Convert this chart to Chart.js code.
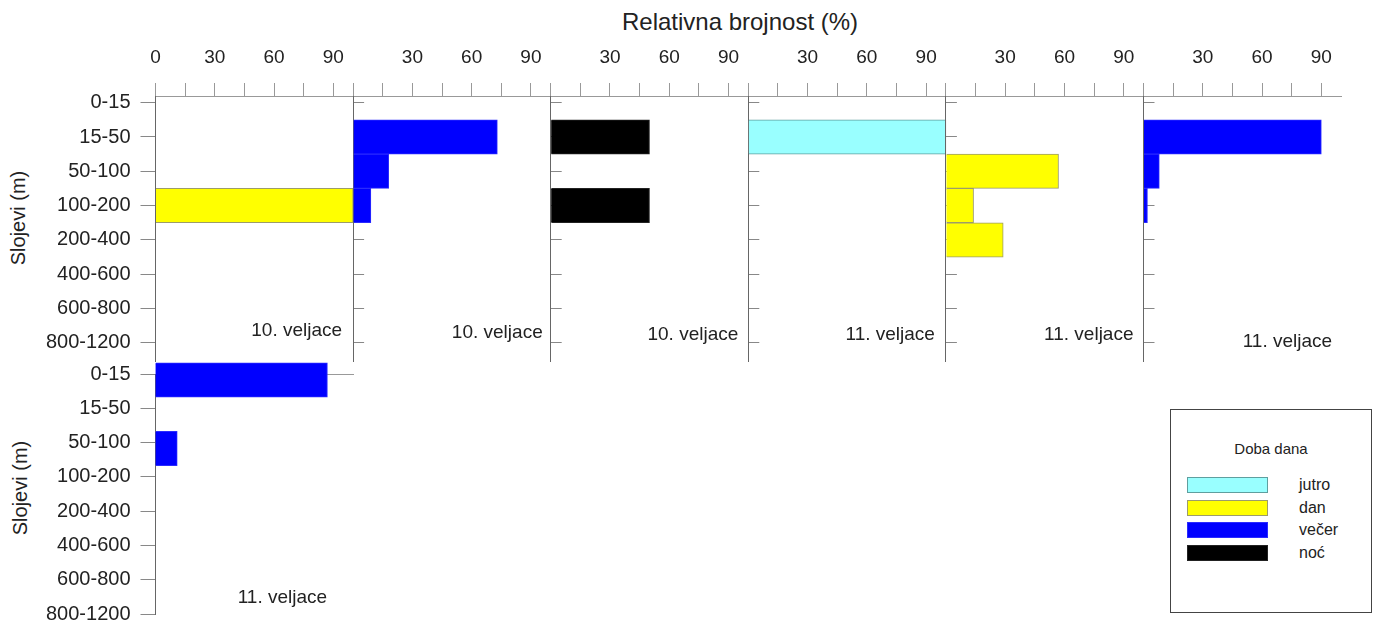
<!DOCTYPE html>
<html lang="hr">
<head>
<meta charset="utf-8">
<title>Relativna brojnost po slojevima</title>
<script src="https://cdn.jsdelivr.net/npm/chart.js@4.4.1/dist/chart.umd.min.js"></script>
<style>
  html, body { margin: 0; padding: 0; background: #fff; overflow: hidden; }
  #wrap { position: relative; width: 1381px; height: 626px; overflow: hidden; background: #fff;
          font-family: 'Liberation Sans', Arial, sans-serif; color: #222; }
  #wrap canvas { position: absolute; left: 0; top: 0; }
  .title { position: absolute; left: 740px; top: 22px; transform: translate(-50%, -50%);
           font-size: 24px; white-space: nowrap; }
  .ytitle { position: absolute; font-size: 20px; white-space: nowrap;
            transform: translate(-50%, -50%) rotate(-90deg); }
  #legend { position: absolute; left: 1170px; top: 409px; width: 202px; height: 204px;
            border: 1px solid #444; box-sizing: border-box; }
  #legend .head { position: absolute; left: 0; right: 0; top: 38px; transform: translateY(-50%);
                  text-align: center; font-size: 15px; }
  #legend .row { position: absolute; left: 16px; height: 16px; width: 180px; }
  #legend .sw { position: absolute; left: 0; top: 0; width: 81px; height: 16px;
                box-sizing: border-box; border: 1px solid; }
  #legend .lbl { position: absolute; left: 112px; top: 50%; transform: translateY(-50%);
                 font-size: 16px; line-height: 1; }
</style>
</head>
<body>
<div id="wrap">
  <div class="title">Relativna brojnost (%)</div>
  <div class="ytitle" style="left:18px; top:218px;">Slojevi (m)</div>
  <div class="ytitle" style="left:20px; top:488px;">Slojevi (m)</div>
  <div id="legend"><div class="head">Doba dana</div></div>
</div>
<script>
"use strict";

/* --- PODACI --- */

const depthLayers = ['0-15', '15-50', '50-100', '100-200', '200-400', '400-600', '600-800', '800-1200'];
const periods = ['jutro', 'dan', 'večer', 'noć'];
const xTickValues = [0, 15, 30, 45, 60, 75, 90];
const xTickLabels = ['0', '', '30', '', '60', '', '90'];

// relativna brojnost (%) po sloju, jedan niz po panelu
const feb10Dan = [null, null, null, 100, null, null, null, null];
const feb10Vecer = [null, 73, 18, 9, null, null, null, null];
const feb10Noc = [null, 50, null, 50, null, null, null, null];
const feb11Jutro = [null, 100, null, null, null, null, null, null];
const feb11Dan = [null, null, 57, 14, 29, null, null, null];
const feb11Vecer = [null, 90, 8, 2, null, null, null, null];
const feb11VecerB = [87, null, 11, null, null, null, null, null];

const panelValues = [feb10Dan, feb10Vecer, feb10Noc, feb11Jutro, feb11Dan, feb11Vecer, feb11VecerB];
const panelPeriods = [1, 2, 3, 0, 1, 2, 2];
const panelDates = ['10. veljace', '10. veljace', '10. veljace', '11. veljace', '11. veljace', '11. veljace', '11. veljace'];

/* --- IZGLED --- */

const periodFill = ['#99ffff', '#ffff00', '#0000ff', '#000000'];
const periodBorder = ['#5f9f9f', '#9c9c6a', '#2a2aff', '#222222'];
const FONT = "'Liberation Sans', Arial, sans-serif";
const W = 1381, H = 626;
const panelW = 197.6;
const topLefts = [155.5, 353.1, 550.7, 748.3, 945.9, 1143.5];
const dateSpots = [[-11, 331], [-8, 333], [-10, 335], [-11, 335], [-10, 335], [-9, 342], [-26, 598]];

const dateLabel = {
  id: 'dateLabel',
  afterDraw(chart, args, o) {
    const ctx = chart.ctx;
    ctx.save();
    ctx.font = '19px ' + FONT;
    ctx.fillStyle = '#222';
    ctx.textAlign = 'right';
    ctx.textBaseline = 'middle';
    ctx.fillText(o.text, chart.chartArea.right + o.dx, o.y);
    ctx.restore();
  }
};

const layerTicks = s => { s.ticks = depthLayers.map((_, k) => ({ value: k })); };

function panelChart(i) {
  const lower = i === 6;
  const left = lower ? topLefts[0] : topLefts[i];
  const withLabels = i === 0 || lower;
  const bottom = lower ? 614 : 361;
  const p = panelPeriods[i];

  const canvas = document.createElement('canvas');
  canvas.width = W;
  canvas.height = H;
  document.getElementById('wrap').appendChild(canvas);

  const scales = {
    x: {
      position: 'top',
      min: 0,
      max: 100,
      afterBuildTicks: s => { s.ticks = xTickValues.map(v => ({ value: v })); },
      afterFit: s => { s.height = lower ? 0 : 96; s.paddingLeft = 0; s.paddingRight = 0; },
      ticks: {
        display: !lower,
        autoSkip: false,
        maxRotation: 0,
        padding: 14,
        color: '#222',
        font: { family: FONT, size: 19 },
        callback: (v, k) => (k === 0 && i !== 0) ? '' : xTickLabels[k]
      },
      grid: { display: !lower, drawOnChartArea: false, tickLength: 13, color: '#999' },
      border: { color: '#999' }
    },
    y: {
      type: 'linear',
      reverse: true,
      offset: false,
      min: lower ? 0 : -0.195,
      max: lower ? 7 : 7.53,
      afterBuildTicks: layerTicks,
      afterFit: s => { s.width = withLabels ? left : 0; s.paddingTop = 0; s.paddingBottom = 0; },
      ticks: {
        display: withLabels,
        padding: 10,
        color: '#222',
        font: { family: FONT, size: 20 },
        callback: v => depthLayers[v]
      },
      grid: { offset: false, drawOnChartArea: false, tickLength: withLabels ? 15 : -11, color: '#888' },
      border: { color: '#666' }
    }
  };

  // donji panel: stupci su malo pomaknuti prema dolje u odnosu na oznake
  if (lower) {
    scales.y2 = {
      type: 'linear',
      position: 'left',
      reverse: true,
      offset: false,
      min: -0.175,
      max: 6.825,
      afterBuildTicks: layerTicks,
      afterFit: s => { s.width = 0; s.paddingTop = 0; s.paddingBottom = 0; },
      ticks: { display: false },
      grid: { display: false, offset: false },
      border: { display: false }
    };
  }

  return new Chart(canvas, {
    type: 'bar',
    data: {
      datasets: [{
        label: periods[p],
        data: panelValues[i].map((v, k) => ({ x: v, y: k })),
        backgroundColor: periodFill[p],
        borderColor: periodBorder[p],
        borderWidth: 1,
        categoryPercentage: 1,
        barPercentage: 1,
        yAxisID: lower ? 'y2' : 'y',
        clip: false
      }]
    },
    options: {
      indexAxis: 'y',
      responsive: false,
      animation: false,
      devicePixelRatio: 1,
      layout: {
        padding: {
          left: withLabels ? 0 : left,
          right: W - left - panelW,
          top: lower ? 374 : 0,
          bottom: H - bottom
        }
      },
      plugins: {
        legend: { display: false },
        tooltip: { enabled: false },
        dateLabel: { text: panelDates[i], dx: dateSpots[i][0], y: dateSpots[i][1] }
      },
      scales: scales
    },
    plugins: [dateLabel]
  });
}

panelValues.forEach((_, i) => panelChart(i));

/* --- LEGENDA --- */

const legendBox = document.getElementById('legend');
periods.forEach((name, k) => {
  const row = document.createElement('div');
  row.className = 'row';
  row.style.top = (67 + k * 22.7) + 'px';
  row.innerHTML = '<span class="sw" style="background:' + periodFill[k] + ';border-color:' + periodBorder[k] + '"></span>' +
                  '<span class="lbl">' + name + '</span>';
  legendBox.appendChild(row);
});
</script>
</body>
</html>
